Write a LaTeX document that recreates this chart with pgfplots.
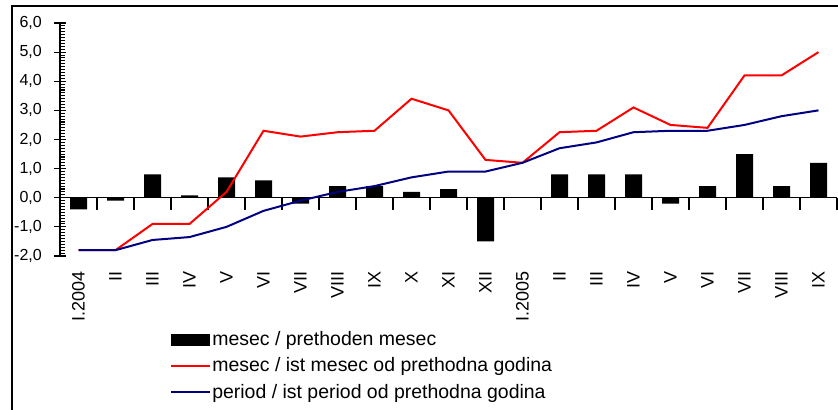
\documentclass[border=0pt]{standalone}
\usepackage{fontspec}
\setmainfont{Liberation Sans}
\usepackage{pgfplots}
\pgfplotsset{compat=1.18}
\definecolor{navyline}{RGB}{0,0,128}
\definecolor{redline}{RGB}{255,0,0}

\begin{document}
\begin{tikzpicture}
\useasboundingbox (0pt,0pt) rectangle (628.5pt,307.5pt);
% outer chart frame (right and bottom edges fall outside the page)
\draw[line width=1.4pt] (9pt,-15pt) -- (9pt,303pt) -- (645pt,303pt);

% x axis line at zero with boundary ticks
\begin{axis}[
    at={(45pt,115.5pt)}, anchor=south west, scale only axis,
    width=582.75pt, height=174.75pt,
    xmin=-0.5, xmax=20.5, ymin=-2, ymax=6,
    axis x line=middle, axis y line=none,
    axis line style={-, line width=1pt, black},
    xtick={-0.5,0.5,...,20.5}, xticklabels={}, ytick=\empty,
    tick align=center, major tick length=9pt,
    every tick/.style={black, line width=0.9pt},
    major x tick style={yshift=-4.5pt},
]
\end{axis}

\begin{axis}[
    at={(45pt,115.5pt)}, anchor=south west, scale only axis,
    width=582.75pt, height=174.75pt,
    xmin=-0.5, xmax=20.5, ymin=-2, ymax=6,
    axis x line=bottom, axis y line=left,
    x axis line style={draw=none},
    y axis line style={-, line width=1pt, black},
    xtick={0,...,20},
    xticklabels={I.2004,II,III,IV,V,VI,VII,VIII,IX,X,XI,XII,I.2005,II,III,IV,V,VI,VII,VIII,IX},
    major x tick style={draw=none},
    xticklabel style={rotate=90, anchor=east, font=\fontsize{13.5}{15}\selectfont, xshift=-3.75pt},
    ytick={-2,-1,...,6}, minor y tick num=9,
    tick align=center, major tick length=8.25pt, minor tick length=3.75pt,
    every tick/.style={black, line width=0.8pt},
    minor y tick style={xshift=1.9pt},
    yticklabel style={font=\fontsize{12}{14}\selectfont, xshift=-6pt,
        /pgf/number format/.cd, fixed, fixed zerofill, precision=1, use comma,
        assume math mode=true},
    legend style={at={(0.1416,-0.318)}, anchor=north west, draw=none, fill=none,
        inner sep=0pt, row sep=5.5pt, font=\fontsize{14.6}{16}\selectfont,
        nodes={inner sep=1pt}},
    legend cell align=left,
]
\addplot[fill=black, draw=none, ybar, bar width=12.75pt,
    legend image code/.code={\fill[black] (0pt,-4.5pt) rectangle (29pt,4.5pt);}]
    coordinates {(0,-0.4)(1,-0.1)(2,0.8)(3,0.08)(4,0.7)(5,0.6)(6,-0.2)(7,0.4)(8,0.4)(9,0.2)(10,0.3)
    (11,-1.5)(12,0)(13,0.8)(14,0.8)(15,0.8)(16,-0.2)(17,0.4)(18,1.5)(19,0.4)(20,1.2)};
\addlegendentry{mesec / prethoden mesec}
\addplot[redline, line width=1.5pt, mark=none,
    legend image code/.code={\draw[redline, line width=1.5pt] (0pt,0pt) -- (29pt,0pt);}]
    coordinates {(0,-1.8)(1,-1.8)(2,-0.9)(3,-0.9)(4,0.2)(5,2.3)(6,2.1)(7,2.25)(8,2.3)(9,3.4)(10,3.0)
    (11,1.3)(12,1.2)(13,2.25)(14,2.3)(15,3.1)(16,2.5)(17,2.4)(18,4.2)(19,4.2)(20,5.0)};
\addlegendentry{mesec / ist mesec od prethodna godina}
\addplot[navyline, line width=1.5pt, mark=none,
    legend image code/.code={\draw[navyline, line width=1.5pt] (0pt,0pt) -- (29pt,0pt);}]
    coordinates {(0,-1.8)(1,-1.8)(2,-1.45)(3,-1.35)(4,-1.0)(5,-0.45)(6,-0.1)(7,0.2)(8,0.4)(9,0.7)(10,0.9)
    (11,0.9)(12,1.2)(13,1.7)(14,1.9)(15,2.25)(16,2.3)(17,2.3)(18,2.5)(19,2.8)(20,3.0)};
\addlegendentry{period / ist period od prethodna godina}
\end{axis}
\end{tikzpicture}
\end{document}
